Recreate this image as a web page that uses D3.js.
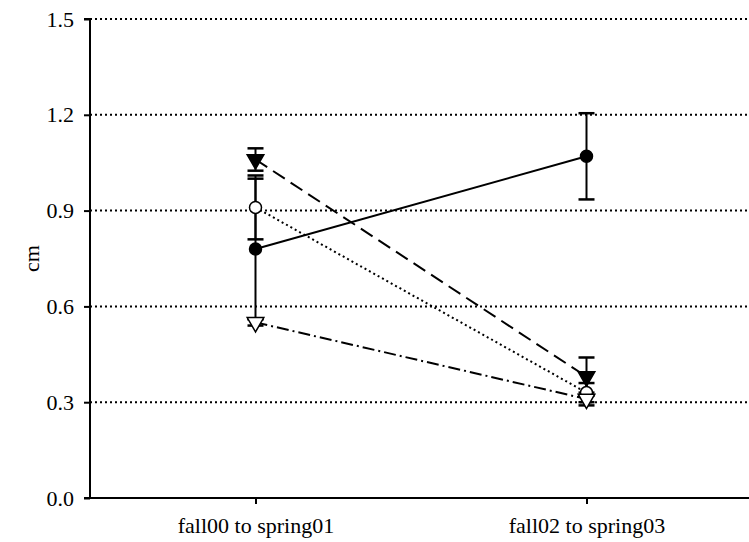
<!DOCTYPE html>
<html>
<head>
<meta charset="utf-8">
<script src="https://cdn.jsdelivr.net/npm/d3@7"></script>
<style>
  body { margin: 0; background: #fff; }
  text { font-family: "Liberation Serif", "Times New Roman", serif; }
</style>
</head>
<body>
<svg id="chart" width="749" height="542"></svg>
<script>
const categories = ["fall00 to spring01", "fall02 to spring03"];
const yTicks = [0.0, 0.3, 0.6, 0.9, 1.2, 1.5];
const gridTicks = [0.3, 0.6, 0.9, 1.2, 1.5];

// series values and errors (per category)
const filledCircle = [0.78, 1.07];
const filledCircleErr = [0.22, 0.135];
const filledTriangle = [1.06, 0.38];
const filledTriangleErr = [0.035, 0.06];
const openCircle = [0.91, 0.33];
const openCircleErr = [0.10, 0.03];
const openTriangle = [0.55, 0.31];
const openTriangleErr = [0.01, 0.02];

const series = [
  { vals: filledCircle, err: filledCircleErr, marker: "circle", fill: "#000", dash: null },
  { vals: filledTriangle, err: filledTriangleErr, marker: "triangle", fill: "#000", dash: "14,7" },
  { vals: openCircle, err: openCircleErr, marker: "circle", fill: "#fff", dash: "2,3" },
  { vals: openTriangle, err: openTriangleErr, marker: "triangle", fill: "#fff", dash: "12,4,2,4" }
];

const svg = d3.select("#chart");
const mLeft = 90, mRight = 752, mTop = 19, mBottom = 498;

const x = d3.scalePoint().domain(categories).range([mLeft, mRight]).padding(0.5);
const y = d3.scaleLinear().domain([0, 1.5]).range([mBottom, mTop]);

// gridlines
svg.append("g").selectAll("line").data(gridTicks).join("line")
  .attr("x1", mLeft).attr("x2", 749)
  .attr("y1", d => y(d)).attr("y2", d => y(d))
  .attr("stroke", "#000").attr("stroke-width", 2)
  .attr("stroke-dasharray", "2,3");

// y axis
const yAxis = d3.axisLeft(y).tickValues(yTicks).tickFormat(d3.format(".1f")).tickSize(6).tickPadding(10);
const gy = svg.append("g").attr("transform", `translate(${mLeft},0)`).call(yAxis);
gy.select(".domain").attr("stroke-width", 2).attr("d", `M-6,${mTop}H0V${mBottom}H-6`);
gy.selectAll(".tick line").attr("stroke-width", 2);
gy.selectAll(".tick text").style("font-size", "22px").attr("fill", "#000");

// x axis
const xAxis = d3.axisBottom(x).tickSize(6).tickPadding(13);
const gx = svg.append("g").attr("transform", `translate(0,${mBottom})`).call(xAxis);
gx.select(".domain").attr("stroke-width", 2).attr("d", `M${mLeft},0H749`);
gx.selectAll(".tick line").attr("stroke-width", 2);
gx.selectAll(".tick text").style("font-size", "22px").attr("fill", "#000");

// y label
svg.append("text").attr("transform", `translate(39,${(mTop + mBottom) / 2}) rotate(-90)`)
  .attr("text-anchor", "middle").style("font-size", "22px").text("cm");

const lineGen = d3.line().x((d, i) => x(categories[i])).y(d => y(d));

// lines
series.forEach(s => {
  svg.append("path").datum(s.vals).attr("d", lineGen)
    .attr("fill", "none").attr("stroke", "#000").attr("stroke-width", 2)
    .attr("stroke-dasharray", s.dash);
});

// error bars
const capW = 8;
series.forEach(s => {
  const g = svg.append("g");
  s.vals.forEach((v, i) => {
    const cx = x(categories[i]);
    const lo = y(v - s.err[i]), hi = y(v + s.err[i]);
    g.append("line").attr("x1", cx).attr("x2", cx).attr("y1", lo).attr("y2", hi)
      .attr("stroke", "#000").attr("stroke-width", 2);
    [lo, hi].forEach(yy => g.append("line").attr("x1", cx - capW).attr("x2", cx + capW)
      .attr("y1", yy).attr("y2", yy).attr("stroke", "#000").attr("stroke-width", 2.5));
  });
});

// markers
const triSym = d3.symbol().type(d3.symbolTriangle).size(120);
series.forEach(s => {
  s.vals.forEach((v, i) => {
    const cx = x(categories[i]), cy = y(v);
    if (s.marker === "circle") {
      svg.append("circle").attr("cx", cx).attr("cy", cy).attr("r", 6)
        .attr("fill", s.fill).attr("stroke", "#000").attr("stroke-width", 1.5);
    } else {
      svg.append("path").attr("d", triSym())
        .attr("transform", `translate(${cx},${cy}) rotate(180)`)
        .attr("fill", s.fill).attr("stroke", "#000").attr("stroke-width", 1.5);
    }
  });
});
</script>
</body>
</html>
